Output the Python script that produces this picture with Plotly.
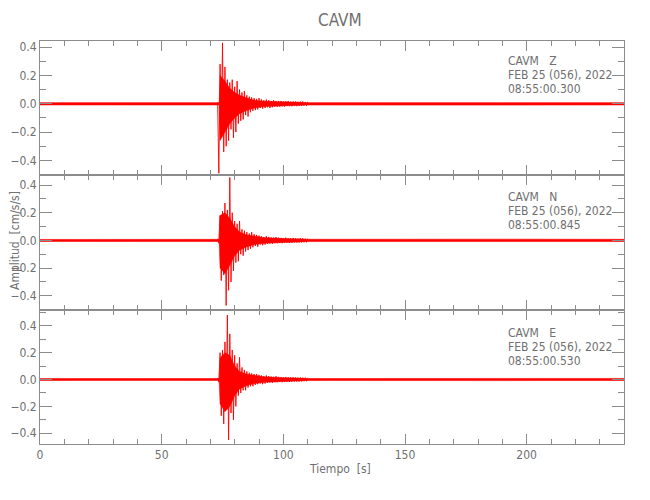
import plotly.graph_objects as go
from plotly.subplots import make_subplots

# ---------------- data ----------------
components = ["Z", "N", "E"]
start_times = ["08:55:00.300", "08:55:00.845", "08:55:00.530"]
date_label = "FEB 25 (056), 2022"
station = "CAVM"

# quiet background noise band (time, upper, lower) per component
noise_t = [0, 40, 73, 100, 140, 190, 240]
noise_hi_z = [0.008, 0.009, 0.008, 0.011, 0.009, 0.008, 0.008]
noise_lo_z = [-0.008, -0.008, -0.009, -0.011, -0.009, -0.009, -0.008]
noise_hi_n = [0.007, 0.008, 0.007, 0.011, 0.010, 0.009, 0.008]
noise_lo_n = [-0.007, -0.008, -0.008, -0.011, -0.009, -0.008, -0.008]
noise_hi_e = [0.007, 0.008, 0.007, 0.011, 0.009, 0.008, 0.008]
noise_lo_e = [-0.007, -0.007, -0.008, -0.011, -0.009, -0.008, -0.007]

# dense (solid) core of the strong motion (time, upper, lower)
core_t = [73.6, 74.0, 76.0, 78.0, 80.0, 82.0, 85.0, 88.0, 92.0, 100.0, 108.0]
core_hi_z = [0.0, 0.20, 0.16, 0.11, 0.08, 0.06, 0.04, 0.025, 0.018, 0.013, 0.009]
core_lo_z = [0.0, -0.26, -0.20, -0.14, -0.10, -0.07, -0.045, -0.03, -0.02, -0.014, -0.009]
core_hi_n = [0.0, 0.18, 0.20, 0.16, 0.10, 0.06, 0.04, 0.03, 0.02, 0.013, 0.009]
core_lo_n = [0.0, -0.20, -0.24, -0.18, -0.11, -0.07, -0.045, -0.03, -0.02, -0.014, -0.009]
core_hi_e = [0.0, 0.16, 0.20, 0.18, 0.10, 0.06, 0.04, 0.03, 0.02, 0.013, 0.009]
core_lo_e = [0.0, -0.18, -0.24, -0.20, -0.12, -0.07, -0.045, -0.03, -0.02, -0.014, -0.009]

# strong-motion part: alternating peak values every 0.5 s starting at 73.0 s
coda_start = 73.0
coda_step = 0.5
coda_z = [0.012, -0.49, 0.28, -0.22, 0.43, -0.34, 0.26, -0.30, 0.17, -0.26,
          0.15, -0.18, 0.17, -0.24, 0.12, -0.20, 0.16, -0.14, 0.10, -0.12,
          0.08, -0.11, 0.09, -0.08, 0.06, -0.09, 0.05, -0.06, 0.045, -0.05,
          0.04, -0.045, 0.035, -0.04, 0.04, -0.03, 0.03, -0.035, 0.025, -0.03,
          0.03, -0.025, 0.025, -0.03, 0.02, -0.025, 0.025, -0.02, 0.02, -0.022,
          0.018, -0.02, 0.02, -0.018, 0.016, -0.02, 0.018, -0.016, 0.02, -0.017,
          0.015, -0.018, 0.017, -0.015, 0.016, -0.017, 0.014, -0.016, 0.015, -0.014,
          0.016, -0.014, 0.013, -0.015, 0.014]
coda_n = [0.012, -0.02, 0.18, -0.29, 0.21, -0.25, 0.27, -0.47, 0.22, -0.36,
          0.455, -0.30, 0.20, -0.22, 0.14, -0.16, 0.12, -0.15, 0.14, -0.10,
          0.08, -0.11, 0.07, -0.08, 0.06, -0.07, 0.05, -0.06, 0.06, -0.05,
          0.045, -0.04, 0.04, -0.045, 0.035, -0.03, 0.03, -0.035, 0.025, -0.03,
          0.03, -0.025, 0.025, -0.022, 0.022, -0.025, 0.02, -0.02, 0.025, -0.02,
          0.02, -0.018, 0.018, -0.02, 0.016, -0.018, 0.02, -0.016, 0.017, -0.018,
          0.015, -0.017, 0.018, -0.015, 0.016, -0.016, 0.014, -0.015, 0.016, -0.014,
          0.015, -0.014, 0.013, -0.014, 0.013]
coda_e = [0.012, -0.02, 0.20, -0.27, 0.22, -0.33, 0.28, -0.20, 0.48, -0.45,
          0.34, -0.25, 0.22, -0.30, 0.18, -0.20, 0.12, -0.12, 0.165, -0.10,
          0.09, -0.08, 0.07, -0.08, 0.06, -0.06, 0.05, -0.05, 0.045, -0.05,
          0.04, -0.04, 0.04, -0.035, 0.035, -0.03, 0.03, -0.035, 0.025, -0.03,
          0.03, -0.025, 0.025, -0.022, 0.022, -0.025, 0.02, -0.02, 0.025, -0.02,
          0.02, -0.018, 0.018, -0.02, 0.016, -0.017, 0.019, -0.016, 0.017, -0.018,
          0.015, -0.016, 0.017, -0.015, 0.015, -0.016, 0.014, -0.015, 0.015, -0.014,
          0.014, -0.013, 0.014, -0.013, 0.013]

y_ranges = [[-0.505, 0.443], [-0.50, 0.47], [-0.48, 0.52]]
x_range = [0, 240]
x_tick_vals = [0, 50, 100, 150, 200]

noise_hi = [noise_hi_z, noise_hi_n, noise_hi_e]
noise_lo = [noise_lo_z, noise_lo_n, noise_lo_e]
core_hi = [core_hi_z, core_hi_n, core_hi_e]
core_lo = [core_lo_z, core_lo_n, core_lo_e]
codas = [coda_z, coda_n, coda_e]

# ---------------- figure ----------------
RED = "#ff0000"
GRAY = "#8c8c8c"
TXT = "#707070"
FONT = "DejaVu Sans Condensed, DejaVu Sans, sans-serif"

fig = make_subplots(rows=3, cols=1, shared_xaxes=True, vertical_spacing=0)

for i in range(3):
    r = i + 1
    xs = noise_t + noise_t[::-1]
    ys = noise_hi[i] + noise_lo[i][::-1]
    fig.add_trace(go.Scatter(x=xs, y=ys, mode="lines", fill="toself",
                             fillcolor=RED, line=dict(color=RED, width=0.6),
                             hoverinfo="skip", showlegend=False), row=r, col=1)
    xs = core_t + core_t[::-1]
    ys = core_hi[i] + core_lo[i][::-1]
    fig.add_trace(go.Scatter(x=xs, y=ys, mode="lines", fill="toself",
                             fillcolor=RED, line=dict(color=RED, width=0.5),
                             hoverinfo="skip", showlegend=False), row=r, col=1)
    ct = [coda_start + k * coda_step for k in range(len(codas[i]))]
    fig.add_trace(go.Scatter(x=ct, y=codas[i], mode="lines",
                             line=dict(color=RED, width=0.9, simplify=False),
                             showlegend=False), row=r, col=1)

axis_common = dict(showline=True, linecolor=GRAY, linewidth=1, mirror="allticks",
                   ticks="inside", tickcolor=GRAY, showgrid=False, zeroline=False,
                   automargin=False,
                   tickfont=dict(family=FONT, size=12, color=TXT))

for i in range(3):
    r = i + 1
    fig.update_xaxes(range=x_range, tickvals=x_tick_vals, ticklen=10,
                     minor=dict(ticks="inside", dtick=10, tick0=0, ticklen=5, tickcolor=GRAY),
                     showticklabels=(r == 3), **axis_common, row=r, col=1)
    fig.update_yaxes(range=y_ranges[i], dtick=0.2, tick0=0, tickformat=".1f", ticklen=12,
                     minor=dict(ticks="inside", dtick=0.1, tick0=0, ticklen=6, tickcolor=GRAY),
                     **axis_common, row=r, col=1)

# page has an 8 px body margin; layout numbers below are in page pixels minus that offset
OFF = 8
L, T = 40 - OFF, 41 - OFF
R = 650 - (624 - OFF)
B = 500 - (444 - OFF)
W = 650 - L - R
H = 500 - T - B

def py(y_page):
    return (500 - B - (y_page - OFF)) / H

def px(x_page):
    return (x_page - OFF - L) / W

ann = []
line_y = [[61, 75, 89], [197, 211, 225], [333, 347, 361]]
for i in range(3):
    texts = [station + "\u00a0\u00a0\u00a0" + components[i], date_label, start_times[i]]
    for j in range(3):
        ann.append(dict(x=px(506), y=py(line_y[i][j]), xref="paper", yref="paper",
                        text=texts[j], showarrow=False, xanchor="left", yanchor="middle",
                        font=dict(family=FONT, size=12, color=TXT)))
ann.append(dict(x=px(15), y=py(241), xref="paper", yref="paper", text="Amplitud  [cm/s/s]",
                textangle=-90, showarrow=False, xanchor="center", yanchor="middle",
                font=dict(family=FONT, size=12, color=TXT)))
ann.append(dict(x=px(340), y=py(469), xref="paper", yref="paper", text="Tiempo  [s]",
                showarrow=False, xanchor="center", yanchor="middle",
                font=dict(family=FONT, size=12, color=TXT)))
ann.append(dict(x=px(340), y=py(20), xref="paper", yref="paper", text=station,
                showarrow=False, xanchor="center", yanchor="middle",
                font=dict(family=FONT, size=17, color=TXT)))

fig.update_layout(width=650, height=500, margin=dict(l=L, r=R, t=T, b=B),
                  paper_bgcolor="white", plot_bgcolor="white",
                  annotations=ann, showlegend=False)

fig.write_html("out.html")
